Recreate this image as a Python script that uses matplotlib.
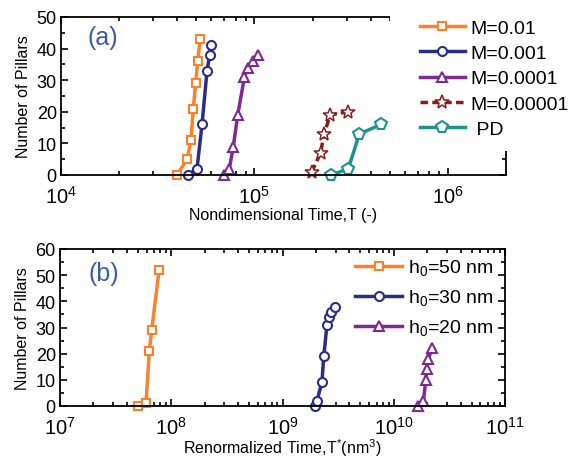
import numpy as np
import matplotlib
matplotlib.use("Agg")
import matplotlib.pyplot as plt
from matplotlib.patches import Rectangle
from matplotlib.ticker import LogLocator, MultipleLocator, NullFormatter

plt.rcParams['font.family'] = ['Liberation Sans', 'DejaVu Sans']
plt.rcParams['mathtext.fontset'] = 'custom'
plt.rcParams['mathtext.rm'] = 'Liberation Sans'

# ---- panel (a): nondimensional time ----
m01_t = [3.98e4, 4.49e4, 4.70e4, 4.83e4, 4.97e4, 5.09e4, 5.24e4]
m01_n = [0, 5, 11, 21, 29, 36, 43]
m001_t = [4.52e4, 5.05e4, 5.36e4, 5.69e4, 5.87e4, 6.00e4]
m001_n = [0, 2, 16, 33, 38, 41]
m0001_t = [6.93e4, 7.42e4, 7.78e4, 8.20e4, 8.88e4, 9.25e4, 9.80e4, 1.05e5]
m0001_n = [0, 2, 9, 19, 31, 34, 36, 38]
m00001_t = [1.98e5, 2.20e5, 2.29e5, 2.47e5, 3.04e5]
m00001_n = [1, 7, 13, 19, 20]
pd_t = [2.50e5, 3.06e5, 3.49e5, 4.52e5]
pd_n = [0, 2, 13, 16]

# ---- panel (b): renormalized time ----
h50_t = [4.98e7, 5.93e7, 6.35e7, 6.67e7, 7.78e7]
h50_n = [0, 1, 21, 29, 52]
h30_t = [1.94e9, 2.04e9, 2.26e9, 2.35e9, 2.51e9, 2.60e9, 2.75e9, 2.99e9]
h30_n = [0, 2, 9, 19, 31, 34, 36, 38]
h20_t = [1.66e10, 1.85e10, 1.94e10, 1.98e10, 2.05e10, 2.20e10]
h20_n = [0, 2, 10, 14, 18, 22]

ORANGE = "#ff7f2a"
NAVY = "#2b2d84"
PURPLE = "#7d2b92"
DRED = "#8b1c1c"
TEAL = "#1f9191"
LBLUE = "#3d5ca8"

fig = plt.figure(figsize=(5.72, 4.6), dpi=100)
ax1 = fig.add_axes([61/572, 1-176/460, 445/572, 158/460])
ax2 = fig.add_axes([60/572, 1-407/460, 445/572, 157/460])

mk = dict(mfc="white", mew=1.5, clip_on=False)
ax1.plot(m01_t, m01_n, "-s", color=ORANGE, lw=2.5, ms=6, label="M=0.01", **mk)
ax1.plot(m001_t, m001_n, "-o", color=NAVY, lw=2.5, ms=6.5, label="M=0.001", **mk)
ax1.plot(m0001_t, m0001_n, "-^", color=PURPLE, lw=2.5, ms=7.5, label="M=0.0001", **mk)
ax1.plot(m00001_t, m00001_n, "*", ls=(0, (2.2, 1.2)), color=DRED, lw=2.5, ms=10,
         mfc="white", mew=1.1, clip_on=False, label="M=0.00001")
ax1.plot(pd_t, pd_n, "-p", color=TEAL, lw=2.5, ms=8.5, label=" PD", **mk)

ax2.plot(h50_t, h50_n, "-s", color=ORANGE, lw=2.5, ms=6, label="h$_0$=50 nm", **mk)
ax2.plot(h30_t, h30_n, "-o", color=NAVY, lw=2.5, ms=6.5, label="h$_0$=30 nm", **mk)
ax2.plot(h20_t, h20_n, "-^", color=PURPLE, lw=2.5, ms=7.5, label="h$_0$=20 nm", **mk)

for ax in (ax1, ax2):
    ax.set_xscale("log")
    ax.xaxis.set_major_locator(LogLocator(base=10, numticks=10))
    ax.xaxis.set_minor_locator(LogLocator(base=10, subs=np.arange(2, 10), numticks=20))
    ax.xaxis.set_minor_formatter(NullFormatter())
    ax.yaxis.set_major_locator(MultipleLocator(10))
    ax.yaxis.set_minor_locator(MultipleLocator(5))
    ax.tick_params(which="both", direction="in", top=True, right=True, width=1.2)
    ax.tick_params(which="major", length=5, labelsize=13, pad=3)
    ax.tick_params(which="minor", length=3)
    ax.tick_params(axis="x", which="major", labelsize=14.5, pad=7)
    for s in ax.spines.values():
        s.set_linewidth(1.3)
    ax.set_ylabel("Number of Pillars", fontsize=11.5, labelpad=4)

ax1.set_xlim(1e4, 2e6)
ax1.set_ylim(0, 50)
ax1.set_xlabel("Nondimensional Time,T (-)", fontsize=11.5, labelpad=0)
ax1.text(0.06, 0.83, "(a)", transform=ax1.transAxes, fontsize=18, color=LBLUE)

ax2.set_xlim(1e7, 1e11)
ax2.set_ylim(0, 60)
ax2.set_xlabel("Renormalized Time,T$^{*}$(nm$^{3}$)", fontsize=11.5, labelpad=-1)
ax2.text(0.065, 0.8, "(b)", transform=ax2.transAxes, fontsize=18, color=LBLUE)

# white block behind the legend of (a), hides the top-right corner of the frame
fig.add_artist(Rectangle((390/572, 1 - 152/460), 182/572, 152/460,
                         transform=fig.transFigure, facecolor="white",
                         edgecolor="none", zorder=3))

leg1 = fig.legend(handles=ax1.get_lines(), loc="upper left",
                  bbox_to_anchor=(420/572, 1 - 20/460), fontsize=14, frameon=False,
                  handlelength=2.3, handletextpad=0.3, labelspacing=0.4,
                  borderpad=0, borderaxespad=0)
leg1.set_zorder(5)

ax2.legend(loc="upper right", bbox_to_anchor=(1.0, 1.02), fontsize=14, frameon=False,
           handlelength=2.4, handletextpad=0.3, labelspacing=0.5, borderaxespad=0.2)

fig.savefig("out.png", dpi=100)
